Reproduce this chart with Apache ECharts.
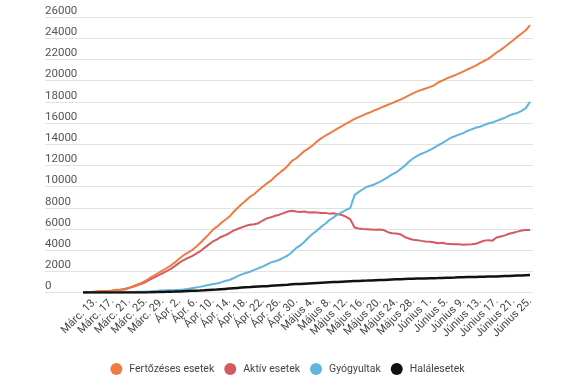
<!DOCTYPE html>
<html>
<head>
<meta charset="utf-8">
<script src="https://cdn.jsdelivr.net/npm/echarts@6/dist/echarts.min.js"></script>
<style>
html,body{margin:0;padding:0;background:#fff;}
#chart{width:575px;height:387px;}
</style>
</head>
<body>
<div id="chart"></div>
<script>
const dates = [
"Márc. 10.","Márc. 11.","Márc. 12.","Márc. 13.","Márc. 14.","Márc. 15.","Márc. 16.","Márc. 17.","Márc. 18.","Márc. 19.",
"Márc. 20.","Márc. 21.","Márc. 22.","Márc. 23.","Márc. 24.","Márc. 25.","Márc. 26.","Márc. 27.","Márc. 28.","Márc. 29.",
"Márc. 30.","Márc. 31.","Ápr. 1.","Ápr. 2.","Ápr. 3.","Ápr. 4.","Ápr. 5.","Ápr. 6.","Ápr. 7.","Ápr. 8.",
"Ápr. 9.","Ápr. 10.","Ápr. 11.","Ápr. 12.","Ápr. 13.","Ápr. 14.","Ápr. 15.","Ápr. 16.","Ápr. 17.","Ápr. 18.",
"Ápr. 19.","Ápr. 20.","Ápr. 21.","Ápr. 22.","Ápr. 23.","Ápr. 24.","Ápr. 25.","Ápr. 26.","Ápr. 27.","Ápr. 28.",
"Ápr. 29.","Ápr. 30.","Május 1.","Május 2.","Május 3.","Május 4.","Május 5.","Május 6.","Május 7.","Május 8.",
"Május 9.","Május 10.","Május 11.","Május 12.","Május 13.","Május 14.","Május 15.","Május 16.","Május 17.","Május 18.",
"Május 19.","Május 20.","Május 21.","Május 22.","Május 23.","Május 24.","Május 25.","Május 26.","Május 27.","Május 28.",
"Május 29.","Május 30.","Május 31.","Június 1.","Június 2.","Június 3.","Június 4.","Június 5.","Június 6.","Június 7.",
"Június 8.","Június 9.","Június 10.","Június 11.","Június 12.","Június 13.","Június 14.","Június 15.","Június 16.","Június 17.",
"Június 18.","Június 19.","Június 20.","Június 21.","Június 22.","Június 23.","Június 24.","Június 25."
];

const fertozeses = [
15,25,50,90,120,140,170,210,260,300,
370,470,600,760,920,1120,1380,1600,1850,2080,
2320,2550,2850,3200,3500,3750,3980,4300,4650,5050,
5450,5900,6200,6550,6850,7150,7600,7980,8350,8700,
9040,9300,9650,9980,10300,10560,10950,11280,11600,11950,
12420,12650,13000,13350,13610,13900,14250,14550,14800,15020,
15250,15500,15700,15950,16150,16380,16550,16720,16900,17050,
17230,17380,17560,17720,17870,18050,18200,18400,18600,18800,
18980,19120,19250,19380,19550,19820,20000,20180,20350,20500,
20680,20850,21050,21230,21420,21650,21850,22050,22350,22650,
22900,23200,23500,23800,24150,24450,24750,25230
];

const aktiv = [
15,25,49,86,117,122,149,168,241,257,
285,435,545,680,820,1000,1230,1410,1620,1810,
2030,2240,2500,2800,3050,3250,3420,3650,3880,4200,
4500,4800,5000,5250,5400,5600,5850,6000,6150,6300,
6400,6450,6550,6800,7000,7100,7250,7350,7500,7650,
7720,7650,7600,7650,7550,7580,7550,7500,7520,7450,
7480,7400,7320,7150,6900,6150,6050,6000,5980,5950,
5920,5950,5900,5700,5600,5580,5500,5250,5100,4980,
4950,4880,4820,4800,4750,4650,4700,4600,4580,4550,
4560,4520,4540,4560,4600,4750,4900,4950,4900,5200,
5300,5400,5550,5650,5750,5850,5900,5900
];

const gyogyultak = [
0,0,1,3,6,9,9,16,19,20,
25,31,52,73,86,94,115,150,180,200,
215,225,240,260,300,350,420,480,540,620,
720,790,860,960,1100,1190,1350,1550,1720,1850,
1970,2150,2300,2450,2650,2850,2950,3100,3300,3500,
3800,4200,4450,4800,5200,5550,5850,6200,6500,6850,
7100,7400,7600,7800,8000,9200,9500,9750,9990,10100,
10250,10450,10650,10900,11150,11350,11650,11950,12350,12650,
12900,13100,13250,13450,13650,13900,14100,14350,14600,14750,
14900,15050,15250,15400,15550,15650,15800,15950,16050,16200,
16350,16500,16700,16850,16950,17150,17400,18000
];

const halalesetek = [
0,0,0,0,0,0,0,0,0,0,
0,2,3,7,11,17,24,37,45,65,
70,85,95,115,135,150,165,180,195,215,
240,265,290,320,350,380,410,440,470,500,
520,545,570,590,610,640,670,700,725,750,
780,800,820,845,870,890,910,930,950,970,
990,1010,1030,1050,1070,1085,1100,1115,1130,1150,
1170,1185,1200,1220,1240,1255,1270,1285,1300,1310,
1320,1330,1340,1350,1360,1370,1385,1400,1410,1420,
1440,1450,1460,1470,1480,1490,1500,1510,1520,1530,
1545,1560,1575,1590,1605,1620,1640,1660
];

const seriesNames = ["Fertőzéses esetek","Aktív esetek","Gyógyultak","Halálesetek"];
const seriesColors = ["#ef7b43","#d45a60","#5fb5dd","#111111"];
const yMin = 0, yMax = 26000, yStep = 2000;

const chart = echarts.init(document.getElementById('chart'), null, {renderer:'canvas'});
const allData = [fertozeses, aktiv, gyogyultak, halalesetek];

chart.setOption({
  animation:false,
  backgroundColor:'#fff',
  textStyle:{fontFamily:'Roboto'},
  grid:[
    {left:45, right:42, top:17, bottom:94.4},
    {left:83, right:45, top:17, bottom:94.4}
  ],
  legend:{
    top:358,
    left:'center',
    icon:'circle',
    itemWidth:16,
    itemHeight:12,
    itemGap:10,
    textStyle:{color:'#444', fontSize:10.5, fontFamily:'Roboto'},
    data:seriesNames
  },
  xAxis:[
    {gridIndex:0, type:'value', show:false, min:0, max:1},
    {gridIndex:1, type:'category', data:dates, boundaryGap:false,
     axisLine:{show:false}, axisTick:{show:false}, splitLine:{show:false},
     axisLabel:{interval:(i)=>i%4===3, rotate:45, fontSize:11, color:'#444', margin:7, fontFamily:'Roboto'}}
  ],
  yAxis:[
    {gridIndex:0, type:'value', min:yMin, max:yMax, interval:yStep,
     axisLine:{show:false}, axisTick:{show:false},
     axisLabel:{inside:true, verticalAlign:'bottom', margin:0, color:'#555', fontSize:11.5, fontFamily:'Roboto',
                formatter:(v)=>String(v)},
     splitLine:{lineStyle:{color:'#e2e2e2', width:1}}},
    {gridIndex:1, type:'value', min:yMin, max:yMax, interval:yStep, show:false, splitLine:{show:false}}
  ],
  series: seriesNames.map((n,k)=>({
    name:n, type:'line', xAxisIndex:1, yAxisIndex:1,
    data:allData[k], showSymbol:false, symbol:'circle',
    color:seriesColors[k],
    lineStyle:{width:k===3?2.5:2, color:seriesColors[k]},
    z: k===3?5:(k===0?4:3)
  }))
});
</script>
</body>
</html>
